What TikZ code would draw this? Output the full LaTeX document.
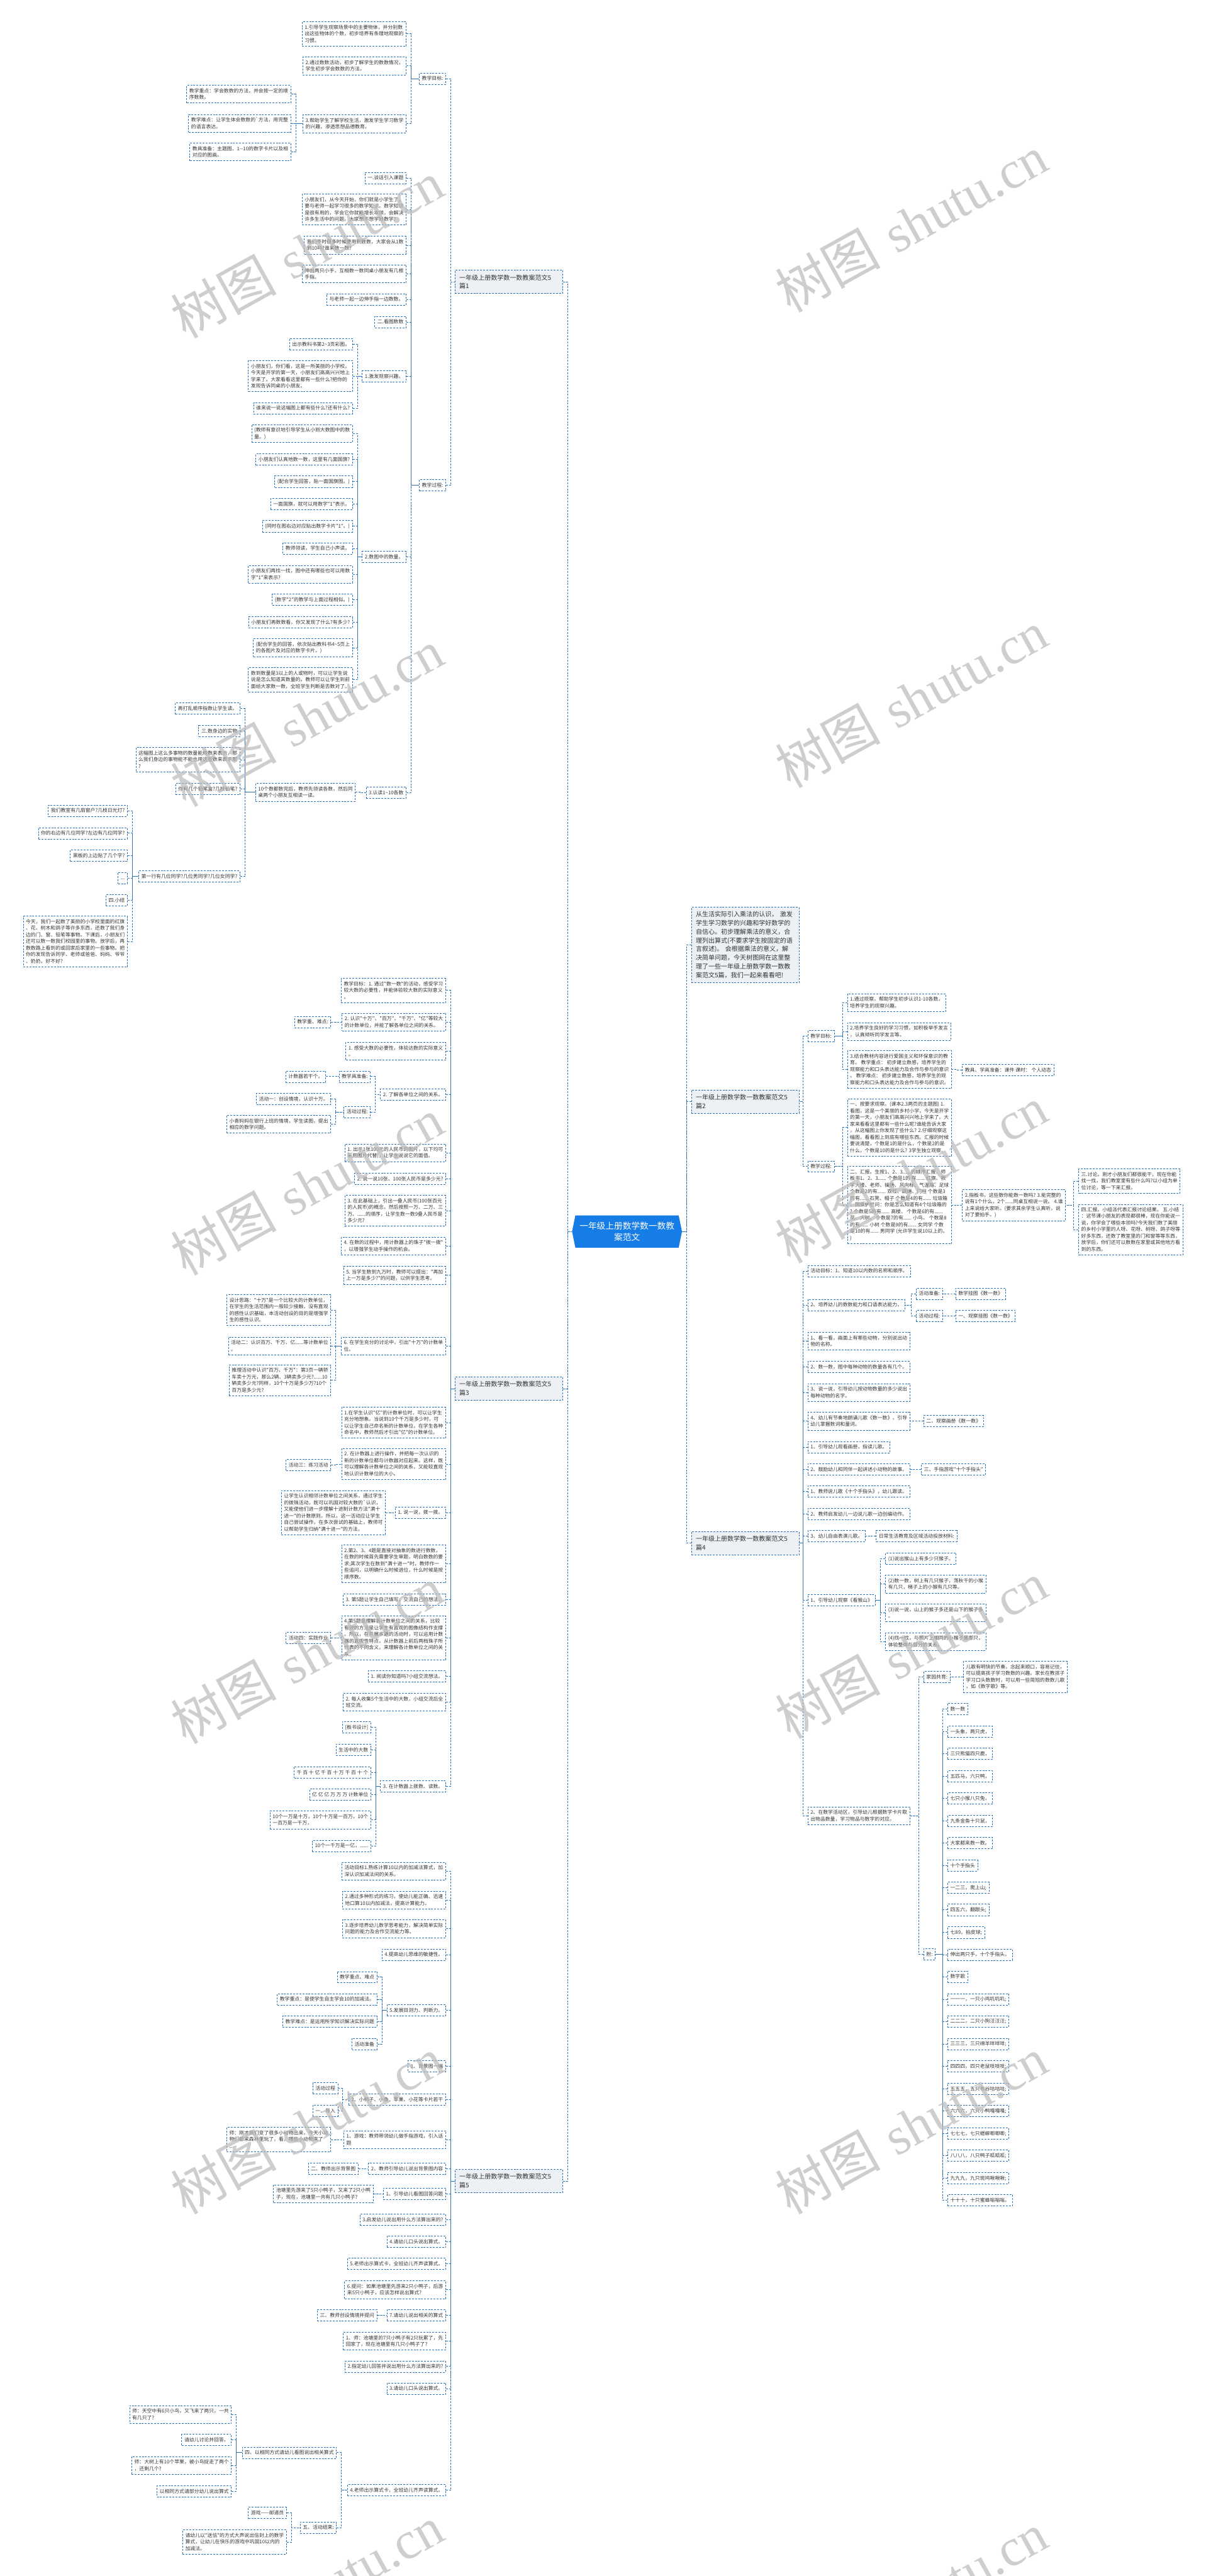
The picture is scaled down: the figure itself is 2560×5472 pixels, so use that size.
\documentclass[tikz,border=0pt]{standalone}
\usepackage{fontspec}
\newfontfamily\cjk{Noto Sans CJK SC}
\newfontfamily\wmfont{Liberation Serif}
\usetikzlibrary{backgrounds}
\definecolor{lineblue}{RGB}{43,114,186}
\definecolor{textgray}{RGB}{51,51,51}
\definecolor{headfill}{RGB}{237,241,245}
\definecolor{rootblue}{RGB}{22,124,230}
\definecolor{wmgray}{RGB}{185,185,185}

\begin{document}
\begin{tikzpicture}[x=1pt, y=-1pt,
    link/.style={draw=lineblue, line width=1.2pt, dash pattern=on 4pt off 2.5pt},
    box/.style={draw=lineblue, line width=1.1pt, dash pattern=on 4pt off 2.5pt,
        text=textgray, align=left, font=\cjk\fontsize{10.5}{14}\selectfont,
        inner xsep=5.5pt, inner ysep=6.6pt,
        execute at begin node={\rule{0pt}{9.2pt}},
        execute at end node={\rule[-1.6pt]{0pt}{1.6pt}}},
    lbox/.style={box, anchor=east},
    rbox/.style={box, anchor=west},
    head/.style={box, fill=headfill, font=\cjk\fontsize{13.4}{18.4}\selectfont,
        text width=210pt, inner xsep=9pt, inner ysep=9pt},
    lhead/.style={head, anchor=east},
    rhead/.style={head, anchor=west},
    rootnode/.style={text=white, align=center, font=\cjk\fontsize{18.3}{23.5}\selectfont,
        minimum width=233pt, minimum height=68pt, inner sep=0pt},
    wm/.style={rotate=29, text=wmgray, text opacity=0.7, font=\fontsize{112}{120}\selectfont}
    ]
    \useasboundingbox (0,0) rectangle (2560,5472);

    \node[rootnode] (root) at (1331.5,2616) {一年级上册数学数一数教\\案范文};
    \begin{scope}[on background layer]
        \fill[rootblue] ([xshift=7pt]root.north west) -- ([xshift=-7pt]root.north east) -- (root.east)
            -- ([xshift=-7pt]root.south east) -- ([xshift=7pt]root.south west) -- (root.west) -- cycle;
    \end{scope}

    \node[lhead] (b1) at (1195,599) {一年级上册数学数一数教案范文5\\篇1};
    \node[lbox] (b1g) at (947,167) {教学目标:};
    \node[lbox] (g1) at (863,72) {1.引导学生观察场景中的主要物体，并分别数\\出这些物体的个数，初步培养有条理地观察的\\习惯。};
    \node[lbox] (g2) at (863,140) {2.通过数数活动，初步了解学生的数数情况，\\学生初步学会数数的方法。};
    \node[lbox] (g3) at (863,263) {3.帮助学生了解学校生活，激发学生学习数学\\的兴趣，渗透思想品德教育。};
    \node[lbox] (g3a) at (618,200) {教学重点：学会数数的方法，并会按一定的顺\\序数数。};
    \node[lbox] (g3b) at (618,262) {教学难点：让学生体会数数的`方法，用完整\\的语言表达。};
    \node[lbox] (g3c) at (618,323) {教具准备：主题图、1-{}-10的数字卡片以及相\\对应的图画。};
    \node[lbox] (b1p) at (947,1031) {教学过程:};
    \node[lbox] (p1) at (863,378) {一.谈话引入课题};
    \node[lbox] (p2) at (863,445) {小朋友们，从今天开始，你们就是小学生了，\\要与老师一起学习很多的数学知识。数学知识\\是很有用的，学会它你就能增长本领，会解决\\许多生活中的问题。大家想不想学好数学?};
    \node[lbox] (p3) at (863,521) {我们平时很多时候要用到数数，大家会从1数\\到10吗?谁来数一数?};
    \node[lbox] (p4) at (863,582) {伸出两只小手，互相数一数同桌小朋友有几根\\手指。};
    \node[lbox] (p5) at (863,636) {与老师一起一边伸手指一边数数。};
    \node[lbox] (p6) at (863,684) {二.看图数数};
    \node[lbox] (p7) at (863,800) {1.激发观察兴趣。};
    \node[lbox] (p7a) at (749,731) {出示教科书第2\textasciitilde 3页彩图。};
    \node[lbox] (p7b) at (749,799) {小朋友们，你们看，这是一所美丽的小学校。\\今天是开学的第一天，小朋友们高高兴兴地上\\学来了。大家看看这里都有一些什么?把你的\\发现告诉同桌的小朋友。};
    \node[lbox] (p7c) at (749,867) {谁来说一说这幅图上都有些什么?还有什么?};
    \node[lbox] (p8) at (863,1183) {2.数图中的数量。};
    \node[lbox] (p8a) at (749,921) {(教师有意识地引导学生从小到大数图中的数\\量。)};
    \node[lbox] (p8b) at (749,976) {小朋友们认真地数一数，这里有几面国旗?};
    \node[lbox] (p8c) at (749,1023) {(配合学生回答，贴一面国旗图。)};
    \node[lbox] (p8d) at (749,1071) {一面国旗，就可以用数字"1"表示。};
    \node[lbox] (p8e) at (749,1118) {(同时在图右边对应贴出数字卡片"1"。)};
    \node[lbox] (p8f) at (749,1165) {教师领读，学生自己小声读。};
    \node[lbox] (p8g) at (749,1220) {小朋友们再找一找，图中还有哪些也可以用数\\字"1"来表示?};
    \node[lbox] (p8h) at (749,1274) {(数字"2"的教学与上面过程相似。)};
    \node[lbox] (p8i) at (749,1322) {小朋友们再数数看，你又发现了什么?有多少?};
    \node[lbox] (p8j) at (749,1376) {(配合学生的回答，依次贴出教科书4\textasciitilde 5页上\\的各图片及对应的数字卡片。)};
    \node[lbox] (p8k) at (749,1444) {数到数量是3以上的人或物时，可以让学生说\\说是怎么知道其数量的。教师可以让学生到前\\面给大家数一数，全班学生判断是否数对了。};
    \node[lbox] (p9) at (863,1684) {3.认读1\textasciitilde 10各数};
    \node[lbox] (p9a) at (755,1683) {10个数都数完后，教师先领读各数，然后同\\桌两个小朋友互相读一读。};
    \node[lbox] (q1) at (510,1505) {再打乱顺序指数让学生读。};
    \node[lbox] (q2) at (510,1553) {三.数身边的实物};
    \node[lbox] (q3) at (510,1614) {这幅图上这么多事物的数量能用数来表示，那\\么我们身边的事物能不能也用这些数来表示呢\\?};
    \node[lbox] (q4) at (510,1676) {你有几个铅笔盒?几枝铅笔?};
    \node[lbox] (q5) at (510,1862) {第一行有几位同学?几位男同学?几位女同学?};
    \node[lbox] (r1) at (271,1722) {我们教室有几扇窗户?几枝日光灯?};
    \node[lbox] (r2) at (271,1770) {你的右边有几位同学?左边有几位同学?};
    \node[lbox] (r3) at (271,1818) {黑板的上边贴了几个字?};
    \node[lbox] (r4) at (271,1865) {...};
    \node[lbox] (r5) at (271,1912) {四.小结};
    \node[lbox] (r6) at (271,2000) {今天，我们一起数了美丽的小学校里面的红旗\\、花、树木和鸽子等许多东西，还数了我们身\\边的门、窗、铅笔等事物。下课后，小朋友们\\还可以数一数我们校园里的事物。放学后，再\\数数路上看到的或回家后家里的一些事物。把\\你的发现告诉同学、老师或爸爸、妈妈、爷爷\\、奶奶，好不好?};

    \node[lhead] (b3) at (1195,2950) {一年级上册数学数一数教案范文5\\篇3};
    \node[lbox] (c1) at (947,2104) {教学目标：1. 通过"数一数"的活动，感受学习\\较大数的必要性，并能体验较大数的实际意义\\。};
    \node[lbox] (c2) at (947,2171) {2. 认识"十万"、"百万"、"千万"、"亿"等较大\\的计数单位，并能了解各单位之间的关系。};
    \node[lbox] (c2a) at (703,2171) {教学重、难点:};
    \node[lbox] (c3) at (947,2233) {1. 感受大数的必要性，体验达数的实际意义\\。};
    \node[lbox] (c4) at (947,2325) {2. 了解各单位之间的关系。};
    \node[lbox] (c4a) at (787,2287) {教学具准备:};
    \node[lbox] (c4c) at (692,2287) {计数器若干个。};
    \node[lbox] (c4b) at (787,2362) {活动过程:};
    \node[lbox] (c4d) at (703,2335) {活动一：创设情境，认识十万。};
    \node[lbox] (c4e) at (703,2388) {小青妈妈在银行上班的情境，学生读图，提出\\相应的数学问题。};
    \node[lbox] (c5) at (947,2449) {1. 出示1张100元的人民币的图片，以下均可\\采用图片代替)，让学生说说它的面值。};
    \node[lbox] (c6) at (947,2504) {2. 说一说10张、100张人民币是多少元?};
    \node[lbox] (c7) at (947,2572) {3. 在此基础上，引出一叠人民币(100张百元\\的人民币)的概念。然后按照一万、二万、三\\万、......的顺序，让学生数一数9叠人民币是\\多少元?};
    \node[lbox] (c8) at (947,2647) {4. 在数的过程中，用计数器上的珠子"拨一拨"\\，以增强学生动手操作的机会。};
    \node[lbox] (c9) at (947,2709) {5. 当学生数到九万时，教师可以提出："再加\\上一万是多少?"的问题，以供学生思考。};
    \node[lbox] (c10) at (947,2859) {6. 在学生充分的讨论中，引出"十万"的计数单\\位。};
    \node[lbox] (c10a) at (703,2783) {设计思路："十万"是一个比较大的计数单位，\\在学生的生活范围内一般较少接触，没有直观\\的感性认识基础，本活动创设的目的是增强学\\生的感性认识。};
    \node[lbox] (c10b) at (703,2859) {活动二：认识百万、千万、亿......等计数单位\\。};
    \node[lbox] (c10c) at (703,2932) {推理活动中认识"百万、千万"：第3页一辆轿\\车卖十万元，那么2辆、3辆卖多少元?......10\\辆卖多少元?同样，10个十万是多少万?10个\\百万是多少元?};
    \node[lbox] (c11) at (947,3022) {1.在学生认识"亿"的计数单位时，可以让学生\\充分地想象。当说到10个千万是多少时，可\\以让学生自己命名新的计数单位，在学生各种\\命名中，教师然后才引出"亿"的计数单位。};
    \node[lbox] (c12) at (947,3110) {2. 在计数器上进行操作，并把每一次认识的\\新的计数单位都与计数器对应起来。这样，既\\可以理解各计数单位之间的关系，又能较直观\\地认识计数单位的大小。};
    \node[lbox] (c12a) at (703,3112) {活动三：练习活动};
    \node[lbox] (c13) at (947,3213) {1. 说一说，拨一拨。};
    \node[lbox] (c13a) at (819,3213) {让学生认识相邻计数单位之间关系，通过学生\\的拨珠活动，既可以巩固对较大数的`认识，\\又能使他们进一步理解十进制计数方法"满十\\进一"的计数原则。所以，这一活动应让学生\\自己尝试操作，在多次尝试的基础上，教师可\\以帮助学生归纳"满十进一"的方法。};
    \node[lbox] (c14) at (947,3322) {2.第2、3、4题是直接对抽象的数进行数数，\\在数的时候首先需要学生审题，明白数数的要\\求;其次学生在数到"满十进一"时，教师作一\\些追问，以明确什么时候进位，什么时候是按\\顺序数。};
    \node[lbox] (c15) at (947,3398) {3. 第5题让学生自己填写，交流自己的想法。};
    \node[lbox] (c16) at (947,3479) {4.第5题是理解各计数单位之间的关系，比较\\有效的方法是让学生有直观的图像结构作支撑\\。所以，在开展本题的活动时，可以运用计数\\器的直观性特点，从计数器上前后两档珠子所\\代表的不同含义，来理解各计数单位之间的关\\系。};
    \node[lbox] (c16a) at (703,3479) {活动四：实践作业};
    \node[lbox] (c17) at (947,3561) {1. 阅读你知道吗?小组交流想法。};
    \node[lbox] (c18) at (947,3616) {2. 每人收集5个生活中的大数，小组交流后全\\班交流。};
    \node[lbox] (c19) at (947,3795) {3. 在计数器上拨数、读数。};
    \node[lbox] (c19a) at (788,3669) {[板书设计]};
    \node[lbox] (c19b) at (788,3717) {生活中的大数};
    \node[lbox] (c19c) at (788,3765) {千 百 十 亿 千 百 十 万 千 百 十 个};
    \node[lbox] (c19d) at (788,3812) {亿 亿 亿 万 万 万 计数单位};
    \node[lbox] (c19e) at (788,3866) {10个一万是十万，10个十万是一百万，10个\\一百万是一千万，};
    \node[lbox] (c19f) at (788,3921) {10个一千万是一亿，......};

    \node[lhead] (b5) at (1195,4633) {一年级上册数学数一数教案范文5\\篇5};
    \node[lbox] (d1) at (947,3975) {活动目标1.熟练计算10以内的加减法算式，加\\深认识加减法间的关系。};
    \node[lbox] (d2) at (947,4036) {2.通过多种形式的练习，使幼儿能正确、迅速\\地口算10以内加减法，提高计算能力。};
    \node[lbox] (d3) at (947,4097) {3.逐步培养幼儿数学思考能力，解决简单实际\\问题的能力及合作交流能力等。};
    \node[lbox] (d4) at (947,4152) {4.提高幼儿思维的敏捷性。};
    \node[lbox] (d5) at (947,4270) {5.发展目测力、判断力。};
    \node[lbox] (d5a) at (801,4200) {教学重点、难点};
    \node[lbox] (d5b) at (801,4247) {教学重点：是使学生自主学会10的加减法。};
    \node[lbox] (d5c) at (801,4294) {教学难点：是运用所学知识解决实际问题};
    \node[lbox] (d5d) at (801,4342) {活动准备};
    \node[lbox] (d6) at (947,4389) {1、背景图一幅};
    \node[lbox] (d7) at (947,4460) {2、小鸭子、小鱼、苹果、小花等卡片若干};
    \node[lbox] (d7a) at (718,4436) {活动过程};
    \node[lbox] (d7b) at (718,4484) {一、导入};
    \node[lbox] (d8) at (947,4545) {1、游戏：教师带领幼儿做手指游戏，引入话\\题};
    \node[lbox] (d8a) at (703,4545) {师：刚才我们变了很多小动物出来，今天小动\\物们都来森林里玩了，看，哪些小动物来了\\...};
    \node[lbox] (d9) at (947,4607) {2、教师引导幼儿说出背景图内容};
    \node[lbox] (d9a) at (761,4607) {二、教师出示背景图};
    \node[lbox] (d10) at (947,4660) {1、引导幼儿看图回答问题};
    \node[lbox] (d10a) at (793,4660) {池塘里先游来了5只小鸭子，又来了2只小鸭\\子，现在，池塘里一共有几只小鸭子?};
    \node[lbox] (d11) at (947,4715) {3.启发幼儿说出用什么方法算出来的?};
    \node[lbox] (d12) at (947,4762) {4.请幼儿口头说出算式。};
    \node[lbox] (d13) at (947,4809) {5.老师出示算式卡，全班幼儿齐声读算式。};
    \node[lbox] (d14) at (947,4864) {6.提问：如果池塘里先游来2只小鸭子，后游\\来5只小鸭子，应该怎样说出算式?};
    \node[lbox] (d15) at (947,4918) {7.请幼儿说出相关的算式};
    \node[lbox] (d15a) at (801,4918) {三、教师创设情境并提问};
    \node[lbox] (d16) at (947,4973) {1、师：池塘里的7只小鸭子有2只玩累了，先\\回家了，现在池塘里有几只小鸭子了?};
    \node[lbox] (d17) at (947,5027) {2.指定幼儿回答并说出用什么方法算出来的?};
    \node[lbox] (d18) at (947,5074) {3.请幼儿口头说出算式。};
    \node[lbox] (d19) at (947,5290) {4.老师出示算式卡，全班幼儿齐声读算式。};
    \node[lbox] (d19a) at (715,5210) {四、以相同方式请幼儿看图说出相关算式};
    \node[lbox] (m1) at (492,5129) {师：天空中有6只小鸟，又飞来了两只，一共\\有几只了?};
    \node[lbox] (m2) at (492,5183) {请幼儿讨论并回答。};
    \node[lbox] (m3) at (492,5237) {师：大树上有10个苹果，被小鸟捉走了两个\\，还剩几个?};
    \node[lbox] (m4) at (492,5292) {以相同方式请部分幼儿说出算式};
    \node[lbox] (d19b) at (715,5369) {五、活动结束:};
    \node[lbox] (n1) at (609,5338) {游戏——邮递员};
    \node[lbox] (n2) at (609,5400) {请幼儿以"送信"的方式大声说出信封上的数学\\算式，让幼儿在快乐的游戏中巩固10以内的\\加减法。};

    \node[rhead] (intro) at (1468,2007) {从生活实际引入乘法的认识， 激发\\学生学习数学的兴趣和学好数学的\\自信心。初步理解乘法的意义，合\\理列出算式(不要求学生按固定的语\\言叙述)。 会根据乘法的意义，解\\决简单问题，今天树图网在这里整\\理了一些一年级上册数学数一数教\\案范文5篇，我们一起来看看吧!};

    \node[rhead] (b2) at (1468,2340) {一年级上册数学数一数教案范文5\\篇2};
    \node[rbox] (b2g) at (1715,2201) {教学目标:};
    \node[rbox] (h1) at (1799,2130) {1.通过观察，帮助学生初步认识1-10各数，\\培养学生的观察兴趣。};
    \node[rbox] (h2) at (1799,2191) {2.培养学生良好的学习习惯，如积极举手发言\\，认真倾听同学发言等。};
    \node[rbox] (h3) at (1799,2272) {3.结合教材内容进行爱国主义和环保意识的教\\育。 教学重点： 初步建立数感，培养学生的\\观察能力和口头表达能力及合作与参与的意识\\。 教学难点： 初步建立数感，培养学生的观\\察能力和口头表达能力及合作与参与的意识。};
    \node[rbox] (h3a) at (2043,2273) {教具、学具准备：课件 课时： 个人动态};
    \node[rbox] (b2p) at (1715,2478) {教学过程:};
    \node[rbox] (k1) at (1799,2395) {一、按要求观察。(课本2.3两页的主题图) 1.\\看图，这是一个美丽的乡村小学，今天是开学\\的第一天，小朋友们高高兴兴地上学来了。大\\家来看看这里都有一些什么呢?谁能告诉大家\\，从这幅图上你发现了些什么? 2.仔细观察这\\幅图，看看图上到底有哪些东西。汇报的时候\\要说清楚，个数是1的是什么，个数是2的是\\什么，个数是10的是什么? 3学生独立观察。};
    \node[rbox] (k2) at (1799,2560) {二、汇报。生按1、2、3......的顺序汇报，师\\板书1、2、3...... 个数是1的 有...... 红旗、教\\学大楼、老师、操场、风向标、气温箱、足球\\个数是2的有...... 双杠、跳绳、门柱 个数是3\\的有...... 石凳、帽子 个数是4的有...... 垃圾箱\\、国旗护栏问：你是怎么知道有4个垃圾箱的\\? 个数是5的有...... 高楼、 个数是6的有......\\花、大树、 个数是7的有...... 小鸟、 个数是8\\的有...... 小树 个数是9的有...... 女同学 个数\\是10的有...... 男同学 (允许学生说10以上的。\\)};
    \node[rbox] (k3) at (2043,2560) {2.指板书，这些数你能数一数吗? 3.能完整的\\说有1个什么，2个......同桌互相说一说。 4.谁\\上来说给大家听。(要求其余学生认真听，说\\对了要拍手。)};
    \node[rbox] (k4) at (2290,2509) {三.讨论。刚才小朋友们都很能干，现在你能\\找一找，我们教室里有些什么吗?以小组为单\\位讨论，等一下来汇报。};
    \node[rbox] (k5) at (2290,2612) {四.汇报。小组派代表汇报讨论结果。 五.小结\\：这节课小朋友的表现都很棒，现在你能说一\\说，你学会了哪些本领吗?今天我们数了美丽\\的乡村小学里的人呀、花呀、树呀、鸽子呀等\\好多东西，还数了教室里的门和窗等等东西，\\放学后，你们还可以数数在家里或其他地方看\\到的东西。};

    \node[rhead] (b4) at (1468,3278) {一年级上册数学数一数教案范文5\\篇4};
    \node[rbox] (f1) at (1715,2700) {活动目标：1、知道10以内数的名称和顺序。};
    \node[rbox] (f2) at (1715,2772) {2、培养幼儿的数数能力和口语表达能力。};
    \node[rbox] (f2a) at (1945,2748) {活动准备:};
    \node[rbox] (f2c) at (2029,2748) {数学挂图《数一数》};
    \node[rbox] (f2b) at (1945,2795) {活动过程:};
    \node[rbox] (f2d) at (2029,2795) {一、观察挂图《数一数》};
    \node[rbox] (f3) at (1715,2849) {1、看一看，画面上有哪些动物，分别说出动\\物的名称。};
    \node[rbox] (f4) at (1715,2904) {2、数一数，图中每种动物的数量各有几个。};
    \node[rbox] (f5) at (1715,2958) {3、说一说，引导幼儿按动物数量的多少说出\\每种动物的名字。};
    \node[rbox] (f6) at (1715,3019) {4、幼儿有节奏地朗诵儿歌《数一数》，引导\\幼儿掌握数词和量词。};
    \node[rbox] (f6a) at (1961,3019) {二、观察画册《数一数》};
    \node[rbox] (f7) at (1715,3074) {1、引导幼儿观看画册，指读儿歌。};
    \node[rbox] (f8) at (1715,3121) {2、鼓励幼儿和同伴一起讲述小动物的故事。};
    \node[rbox] (f8a) at (1956,3121) {三、手指游戏"十个手指头"};
    \node[rbox] (f9) at (1715,3168) {1、教师说儿歌《十个手指头》，幼儿跟读。};
    \node[rbox] (f10) at (1715,3216) {2、教师启发幼儿一边说儿歌一边创编动作。};
    \node[rbox] (f11) at (1715,3263) {3、幼儿自由表演儿歌。};
    \node[rbox] (f11a) at (1860,3263) {日常生活教育及区域活动投放材料:};
    \node[rbox] (f12) at (1715,3399) {1、引导幼儿观察《看猴山》};
    \node[rbox] (f12a) at (1880,3311) {(1)说出猴山上有多少只猴子。};
    \node[rbox] (f12b) at (1880,3365) {(2)数一数，树上有几只猴子，荡秋千的小猴\\有几只，梯子上的小猴有几只等。};
    \node[rbox] (f12c) at (1880,3426) {(3)说一说，山上的猴子多还是山下的猴子多\\。};
    \node[rbox] (f12d) at (1880,3487) {(4)找一找，与照片上相同的小猴子是哪只，\\体验整体与部分的关系。};
    \node[rbox] (f13) at (1715,3857) {2、在数学活动区，引导幼儿根据数字卡片取\\出物品数量，学习物品与数字的对应。};
    \node[rbox] (f13a) at (1961,3562) {家园共育:};
    \node[rbox] (f13c) at (2045,3562) {儿歌有明快的节奏，念起来顺口，容易记住，\\可以提高孩子学习数数的兴趣。家长在教孩子\\学习口头数数时，可以用一些简短的数数儿歌\\，如《数字歌》等。};
    \node[rbox] (f13b) at (1961,4151) {附:};
    \node[rbox] (s1) at (2012,3630) {数一数};
    \node[rbox] (s2) at (2012,3678) {一头象，两只虎，};
    \node[rbox] (s3) at (2012,3725) {三只熊猫四只鹿，};
    \node[rbox] (s4) at (2012,3773) {五匹马，六只鸭，};
    \node[rbox] (s5) at (2012,3820) {七只小猴八只兔，};
    \node[rbox] (s6) at (2012,3868) {九条金鱼十只鼠，};
    \node[rbox] (s7) at (2012,3915) {大家都来数一数。};
    \node[rbox] (s8) at (2012,3963) {十个手指头};
    \node[rbox] (s9) at (2012,4010) {一二三，爬上山;};
    \node[rbox] (s10) at (2012,4057) {四五六，翻跟头;};
    \node[rbox] (s11) at (2012,4105) {七89，拍皮球;};
    \node[rbox] (s12) at (2012,4152) {伸出两只手，十个手指头。};
    \node[rbox] (s13) at (2012,4199) {数字歌};
    \node[rbox] (s14) at (2012,4247) {一一一，一只小鸡叽叽叽;};
    \node[rbox] (s15) at (2012,4294) {二二二，二只小狗汪汪汪;};
    \node[rbox] (s16) at (2012,4342) {三三三，三只绵羊咩咩咩;};
    \node[rbox] (s17) at (2012,4389) {四四四，四只老鼠吱吱吱;};
    \node[rbox] (s18) at (2012,4437) {五五五，五只布谷咕咕咕;};
    \node[rbox] (s19) at (2012,4484) {六六六，六只小鸭嘎嘎嘎;};
    \node[rbox] (s20) at (2012,4532) {七七七，七只蟋蟀唧唧唧;};
    \node[rbox] (s21) at (2012,4579) {八八八，八只鸭子呱呱呱;};
    \node[rbox] (s22) at (2012,4627) {九九九，九只斑鸠啾啾啾;};
    \node[rbox] (s23) at (2012,4674) {十十十，十只蜜蜂嗡嗡嗡。};

    \foreach \p/\c in {root/b1, root/b3, root/b5, b1/b1g, b1/b1p, b1g/g1, b1g/g2, b1g/g3,
        g3/g3a, g3/g3b, g3/g3c, b1p/p1, b1p/p2, b1p/p3, b1p/p4, b1p/p5, b1p/p6, b1p/p7, b1p/p8, b1p/p9,
        p7/p7a, p7/p7b, p7/p7c, p8/p8a, p8/p8b, p8/p8c, p8/p8d, p8/p8e, p8/p8f, p8/p8g, p8/p8h,
        p8/p8i, p8/p8j, p8/p8k, p9/p9a, p9a/q1, p9a/q2, p9a/q3, p9a/q4, p9a/q5,
        q5/r1, q5/r2, q5/r3, q5/r4, q5/r5, q5/r6,
        b3/c1, b3/c2, b3/c3, b3/c4, b3/c5, b3/c6, b3/c7, b3/c8, b3/c9, b3/c10, b3/c11, b3/c12,
        b3/c13, b3/c14, b3/c15, b3/c16, b3/c17, b3/c18, b3/c19,
        c2/c2a, c4/c4a, c4/c4b, c4a/c4c, c4b/c4d, c4b/c4e, c10/c10a, c10/c10b, c10/c10c,
        c12/c12a, c13/c13a, c16/c16a, c19/c19a, c19/c19b, c19/c19c, c19/c19d, c19/c19e, c19/c19f,
        b5/d1, b5/d2, b5/d3, b5/d4, b5/d5, b5/d6, b5/d7, b5/d8, b5/d9, b5/d10, b5/d11, b5/d12,
        b5/d13, b5/d14, b5/d15, b5/d16, b5/d17, b5/d18, b5/d19,
        d5/d5a, d5/d5b, d5/d5c, d5/d5d, d7/d7a, d7/d7b, d8/d8a, d9/d9a, d10/d10a, d15/d15a,
        d19/d19a, d19/d19b, d19a/m1, d19a/m2, d19a/m3, d19a/m4, d19b/n1, d19b/n2}
        \draw[link] (\c.east) -- ++(10,0) |- (\p.west);

    \foreach \p/\c in {root/intro, root/b2, root/b4, b2/b2g, b2/b2p, b2g/h1, b2g/h2, b2g/h3,
        h3/h3a, b2p/k1, b2p/k2, k2/k3, k3/k4, k3/k5,
        b4/f1, b4/f2, b4/f3, b4/f4, b4/f5, b4/f6, b4/f7, b4/f8, b4/f9, b4/f10, b4/f11, b4/f12, b4/f13,
        f2/f2a, f2/f2b, f2a/f2c, f2b/f2d, f6/f6a, f8/f8a, f11/f11a,
        f12/f12a, f12/f12b, f12/f12c, f12/f12d, f13/f13a, f13/f13b, f13a/f13c}
        \draw[link] (\c.west) -- ++(-10,0) |- (\p.east);
    \foreach \i in {1,...,23}
        \draw[link] (s\i.west) -- ++(-10,0) |- (f13b.east);

    \foreach \y in {530,1525,2520,3515,4515,5510}
        \node[wm] at (652,\y) {{\cjk 树图} {\wmfont shutu.cn}};
    \foreach \y in {475,1485,2495,3505,4515,5525}
        \node[wm] at (1935,\y) {{\cjk 树图} {\wmfont shutu.cn}};
\end{tikzpicture}
\end{document}
